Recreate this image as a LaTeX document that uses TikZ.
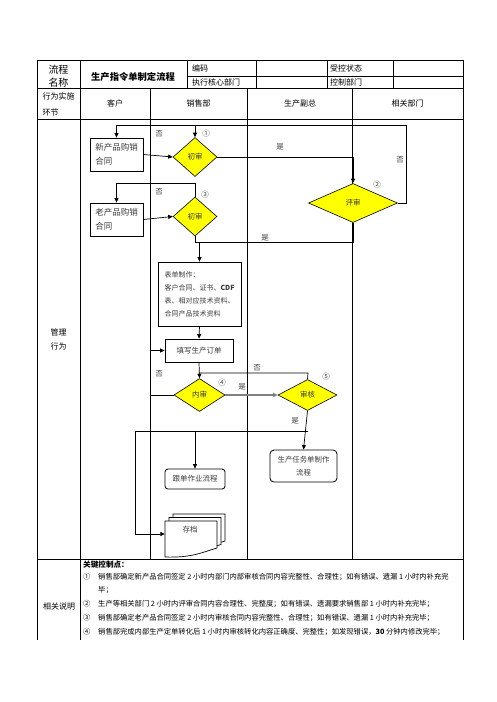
\documentclass[tikz,border=0pt]{standalone}
\usepackage{fontspec}
\setmainfont{Noto Sans CJK SC}
\usetikzlibrary{shapes.geometric,arrows.meta}
\definecolor{dyel}{RGB}{255,255,0}
\definecolor{txt}{RGB}{60,60,60}
\begin{document}
\begin{tikzpicture}[x=1pt,y=-1pt,
 tab/.style={line width=0.7pt},
 conn/.style={line width=0.7pt},
 arr/.style={conn,-{Triangle[length=4.5pt,width=4pt]}},
 box/.style={draw,line width=0.8pt,inner sep=0pt,text=txt},
 dia/.style={diamond,draw,fill=dyel,inner sep=0pt,line width=0.6pt,font=\fontsize{7.5}{9}\selectfont,text=txt},
 lbl/.style={inner sep=0pt,font=\fontsize{7.5}{9}\selectfont,text=txt},
 hd/.style={inner sep=0pt,font=\fontsize{8}{9}\selectfont},
 desc/.style={inner sep=0pt,anchor=west,font=\fontsize{7.3}{9}\selectfont}]
\useasboundingbox (0,0) rectangle (496,702);
\fill[white] (0,0) rectangle (496,702);
% table frame
\draw[tab] (37,640) -- (37,60) -- (463,60) -- (463,640);
\draw[tab] (37,88) -- (463,88);
\draw[tab] (37,119) -- (463,119);
\draw[tab] (37,559) -- (463,559);
\draw[tab] (187,76) -- (463,76);
\draw[tab] (80,60) -- (80,640);
\foreach \x in {187,256,327,393} \draw[tab] (\x,60) -- (\x,88);
\foreach \x in {150,247,352} \draw[tab] (\x,88) -- (\x,559);
% header texts
\node[inner sep=0pt,font=\fontsize{10}{12}\selectfont,align=center] (hname) at (58.5,76) {流程\\[1pt]名称};
\node[inner sep=0pt,font=\fontsize{9.3}{11}\selectfont\bfseries] (htitle) at (133,76.5) {生产指令单制定流程};
\node[hd,anchor=west] (hcode) at (192,68) {编码};
\node[hd,anchor=west] (hdept) at (192,82) {执行核心部门};
\node[hd,anchor=west] (hstat) at (330,68) {受控状态};
\node[hd,anchor=west] (hctrl) at (330,82) {控制部门};
\node[hd,align=left,font=\fontsize{8}{16}\selectfont] (hact) at (58.5,104) {行为实施\\环节};
\node[hd] (lane1) at (115,103) {客户};
\node[hd] (lane2) at (198.5,103) {销售部};
\node[hd] (lane3) at (300,103) {生产副总};
\node[hd] (lane4) at (407.5,103) {相关部门};
\node[hd,align=center,font=\fontsize{8}{14}\selectfont] (mgmt) at (58.5,339) {管理\\行为};
\node[hd] (rel) at (59,606) {相关说明};
% flow nodes
\node[box,minimum width=53pt,minimum height=33pt,align=left,font=\fontsize{8.5}{14}\selectfont] (newc) at (116.5,154.5) {新产品购销\\合同};
\node[dia,minimum width=44pt,minimum height=39pt] (c1) at (195,157) {初审};
\node[dia,minimum width=89pt,minimum height=39pt] (rev) at (353,203) {评审};
\node[box,minimum width=53pt,minimum height=33pt,align=left,font=\fontsize{8.5}{14}\selectfont] (oldc) at (116.5,219.5) {老产品购销\\合同};
\node[dia,minimum width=44pt,minimum height=39pt] (c3) at (195,216.5) {初审};
\node[box,minimum width=83pt,minimum height=64pt,align=left,font=\fontsize{7}{13}\selectfont] (form) at (199.5,294) {表单制作：\\客户合同、证书、\textbf{CDF}\\表、相对应技术资料、\\合同产品技术资料};
\node[box,minimum width=68pt,minimum height=23pt,font=\fontsize{7.5}{9}\selectfont] (fill) at (199,350.5) {填写生产订单};
\node[dia,minimum width=51pt,minimum height=33pt] (nei) at (199.5,395) {内审};
\node[dia,minimum width=59pt,minimum height=31pt] (shen) at (307.5,395) {审核};
\node[box,rounded corners=4pt,minimum width=67pt,minimum height=32pt,align=center,font=\fontsize{7.4}{13}\selectfont] (task) at (303.5,466) {生产任务单制作\\流程};
\node[box,rounded corners=3pt,minimum width=60pt,minimum height=20pt,font=\fontsize{7.5}{9}\selectfont] (follow) at (195,479) {跟单作业流程};
% archive (multi document)
\foreach \dx/\dy in {8/-7,4/-3.5,0/0}
  \filldraw[fill=white,line width=0.7pt,shift={(\dx,\dy)}] (165,521) -- (217,521) -- (217,548) .. controls (203,552) and (192,558) .. (165,557) -- cycle;
\node[inner sep=0pt,minimum width=52pt,minimum height=10pt] (arch) at (191,534) {};
\node[lbl] (archt) at (190,530) {存档};
% coordinates
\coordinate (top) at (406,125);
\coordinate (j1) at (195,242);
\coordinate (n3) at (195,183);
\coordinate (nl) at (150,395);
\coordinate (s5) at (308,373);
\coordinate (j2) at (135,431);
% connectors
\draw[arr] (newc.east) -- (c1.west);
\draw[arr] (c1.east) -| (rev.north);
\draw[conn] (rev.east) -- (rev.east -| top) -- (top) -- (newc.north |- top);
\draw[arr] (newc.north |- top) -- (newc.north);
\draw[arr] (c1.north |- top) -- (c1.north);
\draw[arr] (oldc.east) -- (c3.west);
\draw[conn] (c3.north) -- (n3) -- (oldc.north |- n3);
\draw[arr] (oldc.north |- n3) -- (oldc.north);
\draw[conn] (c3.south) -- (j1) -- (rev.south |- j1) -- (rev.south);
\draw[arr] (form.north |- j1) -- (form.north);
\draw[arr] (form.south) -- (fill.north);
\draw[arr] (fill.south) -- (nei.north);
\draw[-{Triangle[length=4.5pt,width=4pt]},line width=1.2pt,gray] (nei.east) -- (shen.west);
\draw[conn] (nei.west) -- (nl);
\draw[arr] (nl) |- (fill.west);
\draw[conn] (shen.north) -- (s5) -- (s5 -| fill.south);
\draw[arr] (shen.south) -- (task.north);
\draw[conn] (shen.south |- j2) -- (j2) -- (j2 |- arch.west);
\draw[arr] (j2 |- arch.west) -- (arch.west);
\draw[arr] (follow.north |- j2) -- (follow.north);
% labels
\node[lbl] (no1) at (159,134) {否};
\node[lbl] (k1) at (206,134) {①};
\node[lbl] (yes1) at (280,147) {是};
\node[lbl] (no2) at (400,160) {否};
\node[lbl] (k2) at (377,185) {②};
\node[lbl] (no3) at (159,192) {否};
\node[lbl] (k3) at (205,195) {③};
\node[lbl] (yes2) at (265,238) {是};
\node[lbl] (no4) at (159,374) {否};
\node[lbl] (k4) at (222,383) {④};
\node[lbl] (yes4) at (242,387) {是};
\node[lbl] (no5) at (257,368) {否};
\node[lbl] (k5) at (326,377) {⑤};
\node[lbl] (yes5) at (295,421) {是};
% description
\node[desc,font=\fontsize{7.6}{9}\selectfont\bfseries] (key) at (83,565) {关键控制点：};
\node[desc] (i1) at (83,577) {①};
\node[desc] (t1) at (98,577) {销售部确定新产品合同签定 2 小时内部门内部审核合同内容完整性、合理性；如有错误、遗漏 1 小时内补充完};
\node[desc] (t1b) at (98,590) {毕；};
\node[desc] (i2) at (83,604) {②};
\node[desc] (t2) at (98,604) {生产等相关部门 2 小时内评审合同内容合理性、完整度；如有错误、遗漏要求销售部 1 小时内补充完毕；};
\node[desc] (i3) at (83,618) {③};
\node[desc] (t3) at (98,618) {销售部确定老产品合同签定 2 小时内审核合同内容完整性、合理性；如有错误、遗漏 1 小时内补充完毕；};
\node[desc] (i4) at (83,632) {④};
\node[desc] (t4) at (98,632) {销售部完成内部生产定单转化后 1 小时内审核转化内容正确度、完整性；如发现错误，\textbf{30} 分钟内修改完毕；};
\end{tikzpicture}
\end{document}
